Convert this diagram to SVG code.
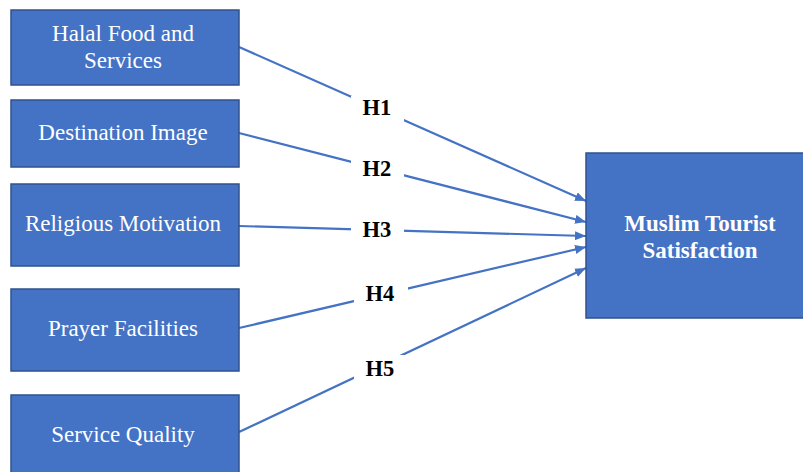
<svg xmlns="http://www.w3.org/2000/svg" width="803" height="472" viewBox="0 0 803 472">
  <style>
    .box { fill: #4472C4; stroke: #2F528F; stroke-width: 1.5; }
    .lbl { font-family: "Liberation Serif", "DejaVu Serif", serif; font-size: 23px; fill: #FFFFFF; text-anchor: middle; }
    .bold { font-weight: bold; }
    .edge { stroke: #4472C4; stroke-width: 2.2; fill: none; marker-end: url(#arrow); }
    .hbg { fill: #FFFFFF; }
    .hyp { font-family: "Liberation Serif", "DejaVu Serif", serif; font-size: 22.5px; font-weight: bold; fill: #000000; text-anchor: middle; }
  </style>
  <defs>
    <marker id="arrow" markerUnits="userSpaceOnUse" markerWidth="11" markerHeight="9" refX="11" refY="4.5" orient="auto">
      <path d="M0,0 L11,4.5 L0,9 Z" fill="#4472C4"/>
    </marker>
  </defs>
  <rect width="803" height="472" fill="#FFFFFF"/>

  <g id="connectors">
    <line class="edge" x1="239" y1="47" x2="586" y2="201"/>
    <line class="edge" x1="239" y1="133" x2="586" y2="222"/>
    <line class="edge" x1="239" y1="226" x2="586" y2="236"/>
    <line class="edge" x1="239" y1="328" x2="586" y2="247"/>
    <line class="edge" x1="239" y1="432" x2="586" y2="268"/>
    <g id="labels">
      <rect class="hbg" x="351" y="96" width="53" height="26"/>
      <text class="hyp" x="377" y="115">H1</text>
      <rect class="hbg" x="351" y="157" width="53" height="24"/>
      <text class="hyp" x="377" y="176">H2</text>
      <rect class="hbg" x="351" y="219" width="53" height="22"/>
      <text class="hyp" x="377" y="237">H3</text>
      <rect class="hbg" x="354" y="282" width="54" height="24"/>
      <text class="hyp" x="380" y="301">H4</text>
      <rect class="hbg" x="354" y="355" width="54" height="26"/>
      <text class="hyp" x="380" y="376">H5</text>
    </g>
  </g>

  <g id="halal-food">
    <rect class="box" x="11" y="10" width="228" height="75"/>
    <text class="lbl" x="123" y="41">Halal Food and</text>
    <text class="lbl" x="123" y="68">Services</text>
  </g>
  <g id="destination-image">
    <rect class="box" x="11" y="100" width="228" height="67"/>
    <text class="lbl" x="123" y="140">Destination Image</text>
  </g>
  <g id="religious-motivation">
    <rect class="box" x="11" y="184" width="228" height="82"/>
    <text class="lbl" x="123" y="231">Religious Motivation</text>
  </g>
  <g id="prayer-facilities">
    <rect class="box" x="11" y="289" width="228" height="82"/>
    <text class="lbl" x="123" y="336">Prayer Facilities</text>
  </g>
  <g id="service-quality">
    <rect class="box" x="11" y="395" width="228" height="90"/>
    <text class="lbl" x="123" y="442">Service Quality</text>
  </g>
  <g id="muslim-tourist-satisfaction">
    <rect class="box" x="586" y="153" width="230" height="165"/>
    <text class="lbl bold" x="700" y="231">Muslim Tourist</text>
    <text class="lbl bold" x="700" y="258">Satisfaction</text>
  </g>
</svg>
